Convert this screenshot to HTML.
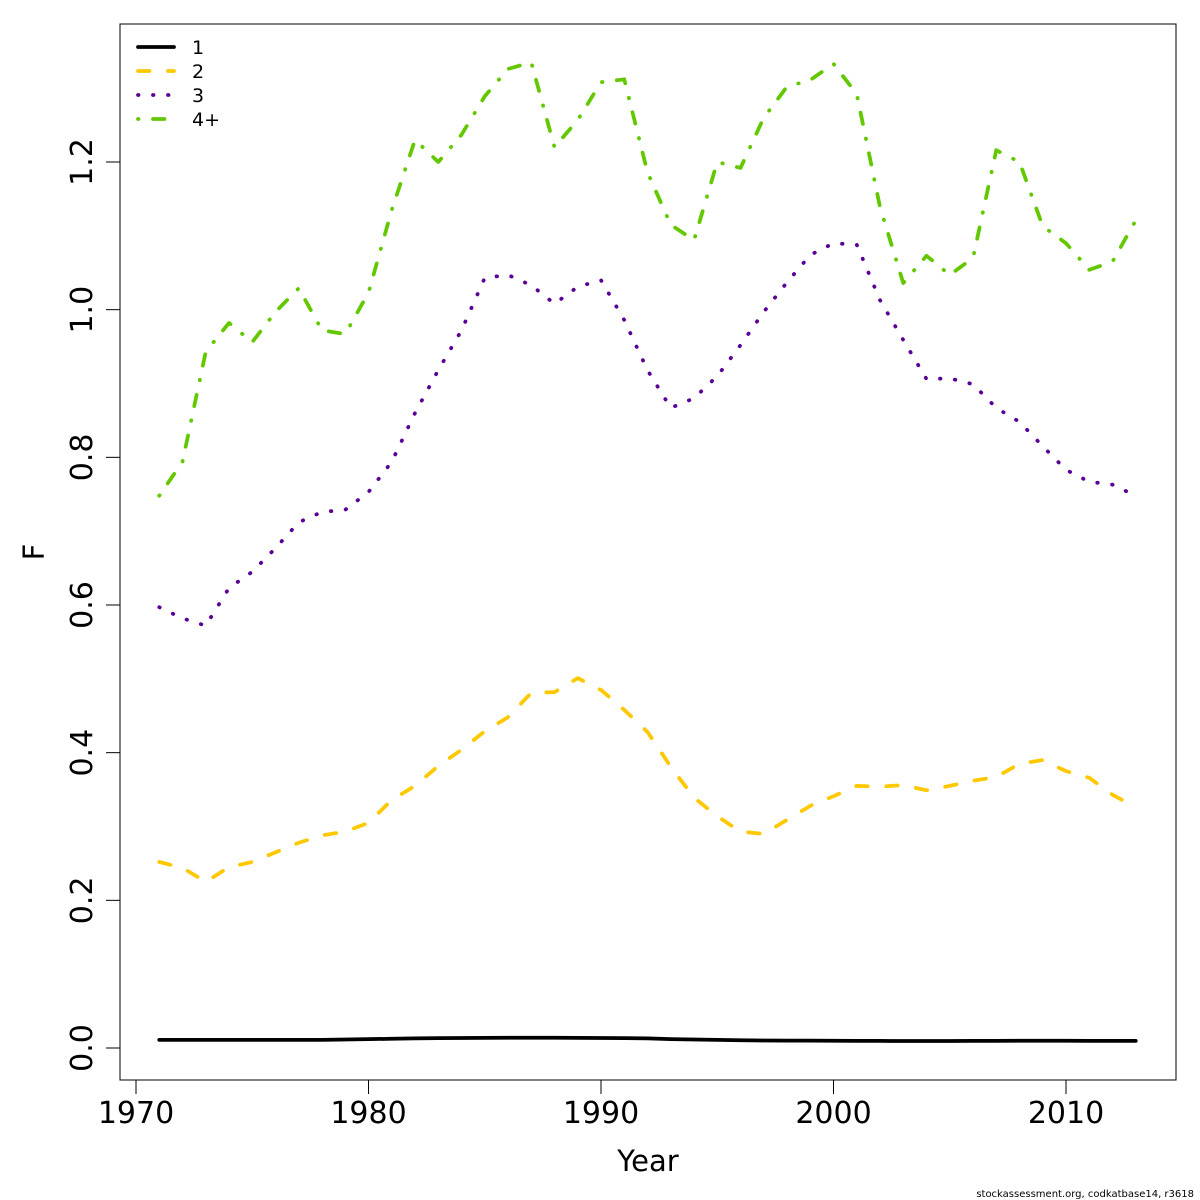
<!DOCTYPE html>
<html><head><meta charset="utf-8">
<style>
html,body{margin:0;padding:0;background:#fff;}
svg{display:block;font-family:"DejaVu Sans","Liberation Sans",sans-serif;}
</style></head>
<body>
<svg id="chart" width="1200" height="1200" xmlns="http://www.w3.org/2000/svg">
<rect x="0" y="0" width="1200" height="1200" fill="#fff"/>
<g id="axes"></g>
<g id="series"></g>
<g id="legend"></g>
<rect x="120" y="24" width="1056" height="1056" fill="none" stroke="#000" stroke-width="1"/>
<text x="648" y="1171" font-size="29" text-anchor="middle">Year</text>
<text x="44" y="552" font-size="29" text-anchor="middle" transform="rotate(-90 44 552)">F</text>
<text x="1194" y="1197" font-size="10" text-anchor="end">stockassessment.org, codkatbase14, r3618</text>
</svg>
<script>
const years = [1971,1972,1973,1974,1975,1976,1977,1978,1979,1980,1981,1982,1983,1984,1985,1986,1987,1988,1989,1990,1991,1992,1993,1994,1995,1996,1997,1998,1999,2000,2001,2002,2003,2004,2005,2006,2007,2008,2009,2010,2011,2012,2013];
const age1 = [0.011,0.011,0.011,0.011,0.011,0.011,0.011,0.011,0.0115,0.012,0.0125,0.013,0.0133,0.0135,0.0137,0.0138,0.0138,0.0138,0.0137,0.0136,0.0134,0.013,0.012,0.0115,0.011,0.0105,0.0102,0.01,0.01,0.0098,0.0097,0.0096,0.0095,0.0095,0.0095,0.0096,0.0097,0.0098,0.0098,0.0098,0.0097,0.0097,0.0096];
const age2 = [0.252,0.244,0.225,0.245,0.252,0.265,0.278,0.288,0.293,0.305,0.336,0.355,0.382,0.404,0.429,0.448,0.481,0.482,0.501,0.485,0.458,0.428,0.381,0.339,0.314,0.293,0.290,0.309,0.328,0.341,0.355,0.354,0.356,0.349,0.355,0.362,0.367,0.385,0.390,0.375,0.366,0.343,0.326];
const age3 = [0.597,0.582,0.572,0.623,0.645,0.677,0.712,0.726,0.729,0.753,0.794,0.860,0.918,0.972,1.043,1.047,1.033,1.008,1.031,1.040,0.986,0.918,0.867,0.880,0.910,0.952,0.997,1.037,1.074,1.090,1.088,1.013,0.959,0.906,0.907,0.899,0.867,0.848,0.815,0.783,0.767,0.763,0.748];
const age4 = [0.748,0.794,0.943,0.982,0.956,0.997,1.029,0.972,0.967,1.023,1.135,1.230,1.200,1.237,1.289,1.326,1.335,1.220,1.257,1.308,1.312,1.186,1.115,1.094,1.200,1.192,1.260,1.302,1.311,1.333,1.292,1.139,1.036,1.073,1.047,1.070,1.216,1.200,1.113,1.090,1.054,1.065,1.121];
const xTicks = [1970,1980,1990,2000,2010];
const yTicks = [0.0,0.2,0.4,0.6,0.8,1.0,1.2];
const yTickLabels = ["0.0","0.2","0.4","0.6","0.8","1.0","1.2"];
const seriesNames = ["1","2","3","4+"];

const NS="http://www.w3.org/2000/svg";
function xs(v){return 136+(v-1970)*23.25;}
function ys(v){return 1048-v*738.33;}
function mk(tag,attrs,parent){const e=document.createElementNS(NS,tag);for(const k in attrs)e.setAttribute(k,attrs[k]);parent.appendChild(e);return e;}

const axes=document.getElementById('axes');
mk('line',{x1:xs(1970),y1:1080,x2:xs(2010),y2:1080,stroke:'#000'},axes);
xTicks.forEach(t=>{
  const l=mk('line',{x1:xs(t),y1:1080,x2:xs(t),y2:1094,stroke:'#000'},axes);
  
  
  const tx=mk('text',{x:xs(t),y:1123,'font-size':30,'text-anchor':'middle'},axes);
  tx.textContent=t;
  
  
});
mk('line',{x1:120,y1:ys(0),x2:120,y2:ys(1.2),stroke:'#000'},axes);
yTicks.forEach((t,i)=>{
  const l=mk('line',{x1:106,y1:ys(t),x2:120,y2:ys(t),stroke:'#000'},axes);
  
  
  const x=92,y=ys(t);
  const tx=mk('text',{x:x,y:y,'font-size':30,'text-anchor':'middle',transform:`rotate(-90 ${x} ${y})`},axes);
  tx.textContent=yTickLabels[i];
  
  
});

const styles=[
  {color:'#000000',dash:'',name:'age-1-line'},
  {color:'#FFC800',dash:'11.5 18.5',name:'age-2-line'},
  {color:'#5A0096',dash:'0.5 14.5',name:'age-3-line'},
  {color:'#64C800',dash:'0.5 14.5 11.5 15',name:'age-4plus-line'}
];
const data=[age1,age2,age3,age4];
const sg=document.getElementById('series');
data.forEach((arr,si)=>{
  const d=arr.map((v,i)=>(i?'L':'M')+xs(years[i]).toFixed(2)+' '+ys(v).toFixed(2)).join(' ');
  const attrs={d:d,fill:'none',stroke:styles[si].color,'stroke-width':3.75,'stroke-linejoin':'round','stroke-linecap':'round'};
  if(styles[si].dash)attrs['stroke-dasharray']=styles[si].dash;
  const p=mk('path',attrs,sg);
  
  
});

const lg=document.getElementById('legend');
seriesNames.forEach((n,i)=>{
  const y=47+i*24;
  const attrs={x1:138,y1:y,x2:174,y2:y,stroke:styles[i].color,'stroke-width':3.75,'stroke-linecap':'round'};
  if(styles[i].dash)attrs['stroke-dasharray']=styles[i].dash;
  const l=mk('line',attrs,lg);
  
  
  const t=mk('text',{x:192,y:y+7,'font-size':19},lg);
  t.textContent=n;
  
  
});
</script>
</body></html>
